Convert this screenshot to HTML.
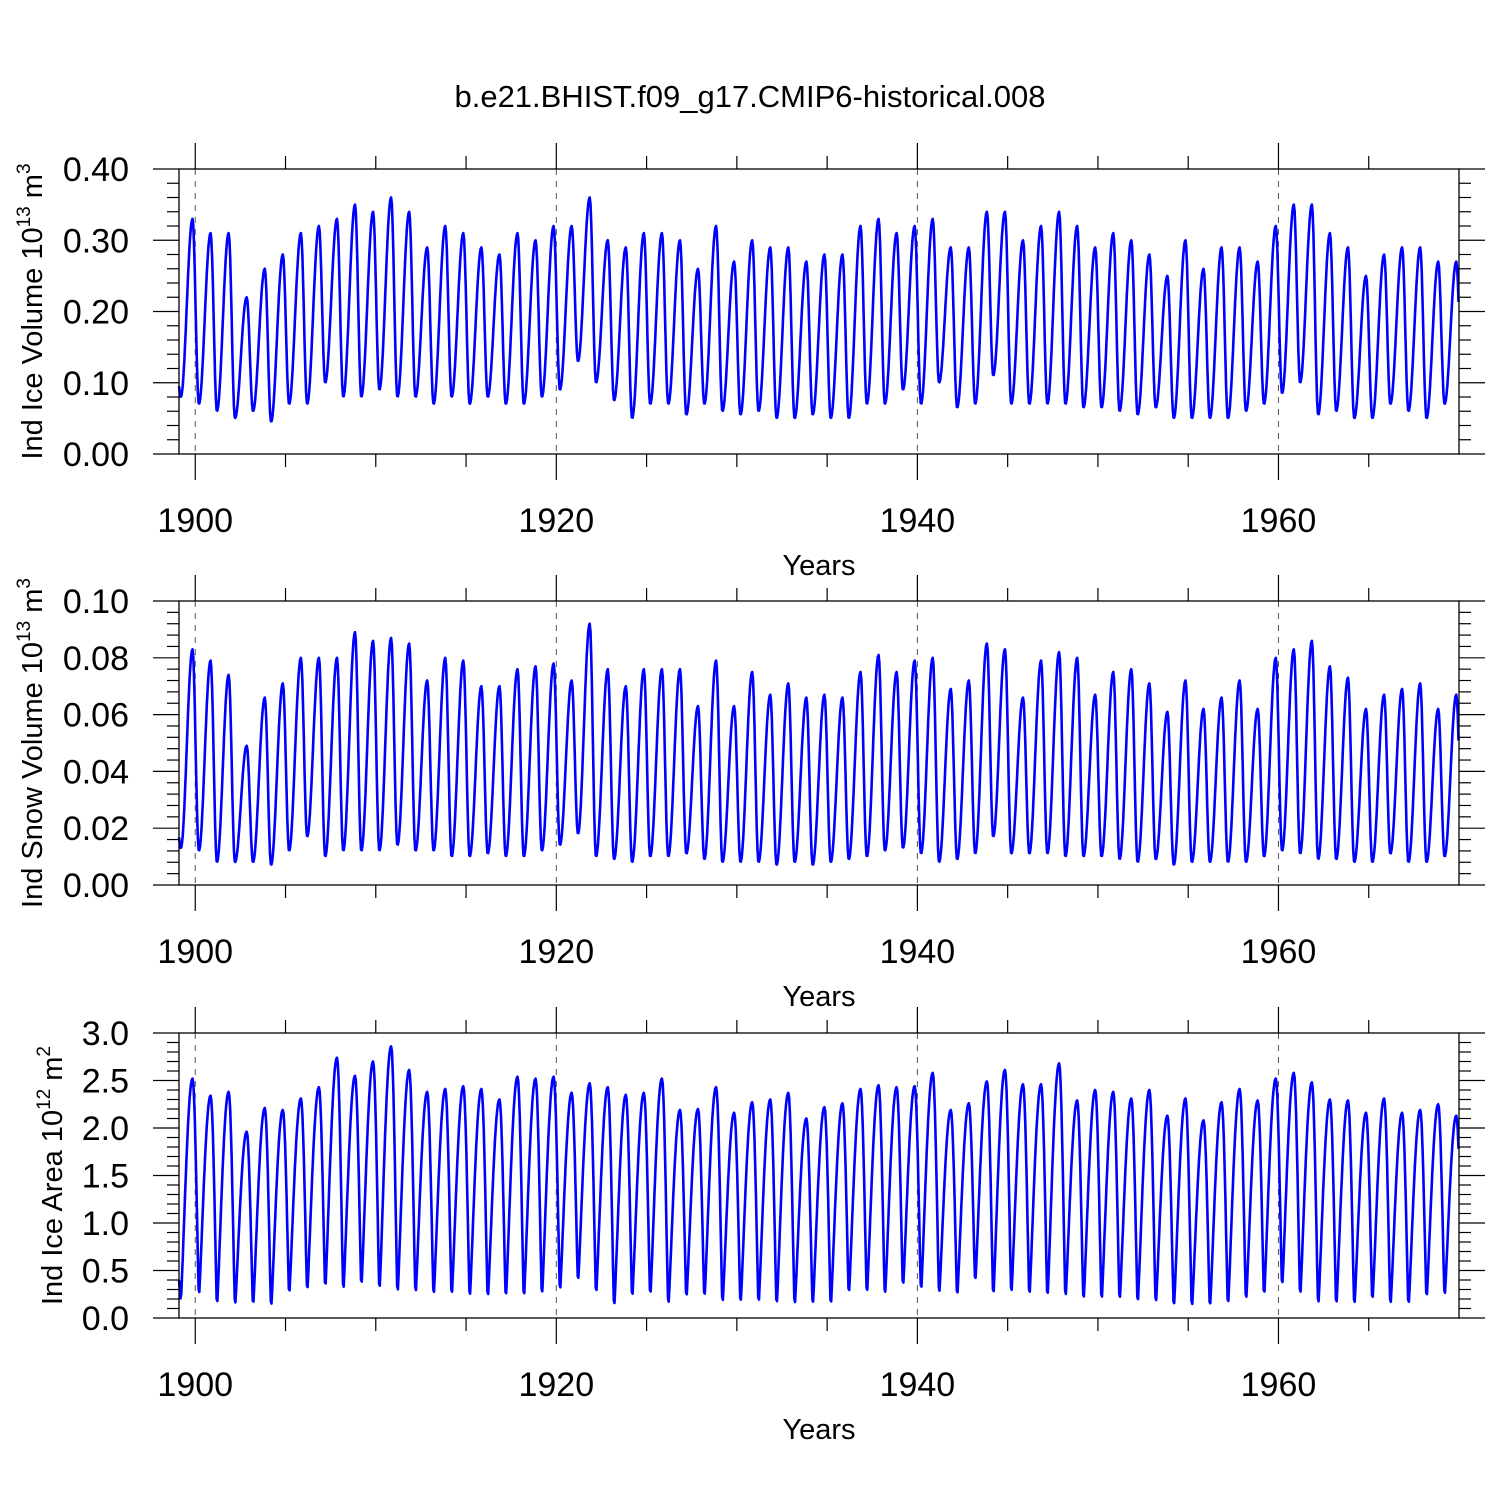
<!DOCTYPE html>
<html><head><meta charset="utf-8">
<style>
html,body{margin:0;padding:0;background:#fff;}
svg{display:block;font-family:"Liberation Sans",Arial,sans-serif;}
</style></head>
<body>
<svg id="chart" width="1500" height="1500" viewBox="0 0 1500 1500" xmlns="http://www.w3.org/2000/svg">
<text x="750" y="107" text-anchor="middle" font-size="31">b.e21.BHIST.f09_g17.CMIP6-historical.008</text>
</svg>
<script>
// ---- data: per-year seasonal peaks and troughs (1899..1969) ----
const years = [];
for (let y = 1899; y <= 1969; y++) years.push(y);
const xTickYears = [1900, 1920, 1940, 1960];

const volPeaks = [0.33,0.31,0.31,0.22,0.26,0.28,0.31,0.32,0.33,0.35,0.34,0.36,0.34,0.29,0.32,0.31,0.29,0.28,0.31,0.30,0.32,0.32,0.36,0.30,0.29,0.31,0.31,0.30,0.26,0.32,0.27,0.30,0.29,0.29,0.27,0.28,0.28,0.32,0.33,0.31,0.32,0.33,0.29,0.29,0.34,0.34,0.30,0.32,0.34,0.32,0.29,0.31,0.30,0.28,0.25,0.30,0.26,0.29,0.29,0.27,0.32,0.35,0.35,0.31,0.29,0.25,0.28,0.29,0.29,0.27,0.27];
const volTroughs = [0.08,0.07,0.06,0.05,0.06,0.045,0.07,0.07,0.10,0.08,0.08,0.09,0.08,0.08,0.07,0.08,0.07,0.08,0.07,0.07,0.08,0.09,0.13,0.10,0.075,0.05,0.07,0.07,0.055,0.07,0.06,0.055,0.06,0.05,0.05,0.055,0.05,0.05,0.07,0.07,0.09,0.07,0.10,0.065,0.07,0.11,0.07,0.07,0.07,0.07,0.065,0.065,0.06,0.055,0.065,0.05,0.05,0.05,0.05,0.06,0.07,0.085,0.10,0.055,0.06,0.05,0.05,0.07,0.06,0.05,0.07];

const snowPeaks = [0.083,0.079,0.074,0.049,0.066,0.071,0.080,0.080,0.080,0.089,0.086,0.087,0.085,0.072,0.080,0.079,0.070,0.070,0.076,0.077,0.078,0.072,0.092,0.076,0.070,0.076,0.076,0.076,0.063,0.079,0.063,0.075,0.067,0.071,0.066,0.067,0.066,0.075,0.081,0.075,0.079,0.080,0.069,0.072,0.085,0.083,0.066,0.079,0.082,0.080,0.067,0.075,0.076,0.071,0.061,0.072,0.062,0.066,0.072,0.062,0.080,0.083,0.086,0.077,0.073,0.062,0.067,0.069,0.071,0.062,0.067];
const snowTroughs = [0.013,0.012,0.008,0.008,0.008,0.007,0.012,0.017,0.010,0.012,0.012,0.012,0.014,0.012,0.012,0.010,0.010,0.011,0.010,0.010,0.012,0.014,0.018,0.010,0.009,0.008,0.010,0.010,0.011,0.009,0.008,0.008,0.008,0.007,0.008,0.007,0.008,0.009,0.010,0.012,0.013,0.011,0.008,0.009,0.011,0.017,0.011,0.011,0.011,0.010,0.010,0.010,0.009,0.008,0.009,0.007,0.008,0.008,0.008,0.008,0.010,0.012,0.011,0.009,0.009,0.008,0.008,0.011,0.008,0.008,0.010];

const areaPeaks = [2.52,2.34,2.38,1.96,2.21,2.19,2.31,2.43,2.74,2.55,2.70,2.86,2.61,2.38,2.41,2.44,2.41,2.30,2.54,2.52,2.54,2.37,2.47,2.43,2.35,2.37,2.52,2.19,2.20,2.43,2.16,2.27,2.30,2.37,2.10,2.22,2.26,2.41,2.45,2.43,2.44,2.58,2.19,2.26,2.49,2.61,2.46,2.46,2.68,2.29,2.40,2.38,2.31,2.40,2.13,2.31,2.08,2.27,2.41,2.29,2.52,2.58,2.48,2.30,2.29,2.16,2.31,2.16,2.19,2.25,2.13];
const areaTroughs = [0.18,0.20,0.10,0.10,0.10,0.08,0.22,0.25,0.28,0.25,0.30,0.25,0.22,0.22,0.20,0.20,0.18,0.18,0.18,0.18,0.20,0.25,0.35,0.22,0.08,0.18,0.20,0.10,0.18,0.18,0.12,0.12,0.12,0.10,0.10,0.10,0.10,0.22,0.22,0.20,0.30,0.25,0.22,0.20,0.35,0.20,0.22,0.20,0.18,0.18,0.15,0.15,0.15,0.12,0.12,0.08,0.08,0.08,0.10,0.15,0.20,0.30,0.20,0.10,0.10,0.10,0.15,0.10,0.10,0.18,0.20];

const panels = [
  {name:'ice-volume', top:169, bot:454, ymin:0, ymax:0.40, major:0.10, minor:0.02, dec:2, peaks:volPeaks, troughs:volTroughs, flat:false,
   label:['Ind Ice Volume 10','13',' m','3'], labelX:42},
  {name:'snow-volume', top:601, bot:885, ymin:0, ymax:0.10, major:0.02, minor:0.004, dec:2, peaks:snowPeaks, troughs:snowTroughs, flat:false,
   label:['Ind Snow Volume 10','13',' m','3'], labelX:42},
  {name:'ice-area', top:1033, bot:1318, ymin:0, ymax:3.0, major:0.5, minor:0.1, dec:1, peaks:areaPeaks, troughs:areaTroughs, flat:true,
   label:['Ind Ice Area 10','12',' m','2'], labelX:62}
];

const svg = document.getElementById('chart');
const NS = 'http://www.w3.org/2000/svg';
const X0 = 179, X1 = 1459, T0 = 1899.1, T1 = 1970.0;
const xScale = t => X0 + (t - T0) / (T1 - T0) * (X1 - X0);
function mk(tag, attrs, parent){ const e=document.createElementNS(NS,tag); for(const k in attrs) e.setAttribute(k,attrs[k]); (parent||svg).appendChild(e); return e; }

panels.forEach(p => {
  const g = mk('g', {});
  
  
  const yScale = v => p.bot - (v - p.ymin) / (p.ymax - p.ymin) * (p.bot - p.top);

  const pts = [];
  const keys = [];
  years.forEach((y,i) => { keys.push([y+0.2, p.troughs[i]]); keys.push([y+0.85, p.peaks[i]]); });
  keys.unshift([1898.85, 0.20*p.ymax+ (p.troughs[0])]);
  keys.push([1970.2, p.troughs[p.troughs.length-1]]);
  for (let t = T0; t <= T1 + 1e-6; t += 1/24) {
    let k = 0; while (k < keys.length-2 && keys[k+1][0] < t) k++;
    const a = keys[k], b = keys[k+1];
    let f = (t - a[0]) / (b[0] - a[0]); f = Math.max(0, Math.min(1, f));
    let s = (1 - Math.cos(Math.PI * f)) / 2;
    if (p.flat) { const rising = b[1] > a[1]; s = rising ? Math.pow(s, 0.6) : 1 - Math.pow(1-s, 0.6); }
    const v = a[1] + (b[1] - a[1]) * s;
    pts.push(xScale(t).toFixed(1) + ',' + yScale(v).toFixed(1));
  }

  xTickYears.forEach(yr => {
    const l = mk('line', {x1:xScale(yr), x2:xScale(yr), y1:p.top, y2:p.bot, stroke:'#555', 'stroke-width':1, 'stroke-dasharray':'6,6'}, g);
    
    
  });

  const line = mk('polyline', {points:pts.join(' '), fill:'none', stroke:'#0000ff', 'stroke-width':2.6, 'stroke-linejoin':'round'}, g);
  
  

  const frame = mk('rect', {x:X0, y:p.top, width:X1-X0, height:p.bot-p.top, fill:'none', stroke:'#000', 'stroke-width':1.3}, g);
  
  

  const nMinor = Math.round((p.ymax - p.ymin) / p.minor);
  for (let i = 0; i <= nMinor; i++) {
    const v = p.ymin + i * p.minor, y = yScale(v);
    const isMaj = Math.abs(v / p.major - Math.round(v / p.major)) < 1e-6;
    const len = isMaj ? 26 : 12;
    mk('line', {x1:X0-len, x2:X0, y1:y, y2:y, stroke:'#000', 'stroke-width':1.2}, g);
    mk('line', {x1:X1, x2:X1+len, y1:y, y2:y, stroke:'#000', 'stroke-width':1.2}, g);
    if (isMaj) {
      const t = mk('text', {x:129, y:y+12, 'text-anchor':'end', 'font-size':34}, g);
      t.textContent = v.toFixed(p.dec);
      
      
    }
  }
  for (let yr = 1900; yr <= 1965; yr += 5) {
    const x = xScale(yr), maj = yr % 20 === 0, len = maj ? 26 : 13;
    mk('line', {x1:x, x2:x, y1:p.top-len, y2:p.top, stroke:'#000', 'stroke-width':1.2}, g);
    mk('line', {x1:x, x2:x, y1:p.bot, y2:p.bot+len, stroke:'#000', 'stroke-width':1.2}, g);
    if (maj) {
      const t = mk('text', {x:x, y:p.bot+78, 'text-anchor':'middle', 'font-size':34}, g);
      t.textContent = yr;
      
      
    }
  }
  const xt = mk('text', {x:819, y:p.bot+121, 'text-anchor':'middle', 'font-size':29}, g);
  xt.textContent = 'Years';
  
  

  const cy = (p.top + p.bot) / 2;
  const yt = mk('text', {x:p.labelX, y:cy, 'text-anchor':'middle', 'font-size':29, transform:'rotate(-90 '+p.labelX+' '+cy+')'}, g);
  
  
  const s1 = mk('tspan', {}, yt); s1.textContent = p.label[0];
  const s2 = mk('tspan', {'font-size':19, dy:-12}, yt); s2.textContent = p.label[1];
  const s3 = mk('tspan', {dy:12}, yt); s3.textContent = p.label[2];
  const s4 = mk('tspan', {'font-size':19, dy:-12}, yt); s4.textContent = p.label[3];
});
</script>
</body></html>
